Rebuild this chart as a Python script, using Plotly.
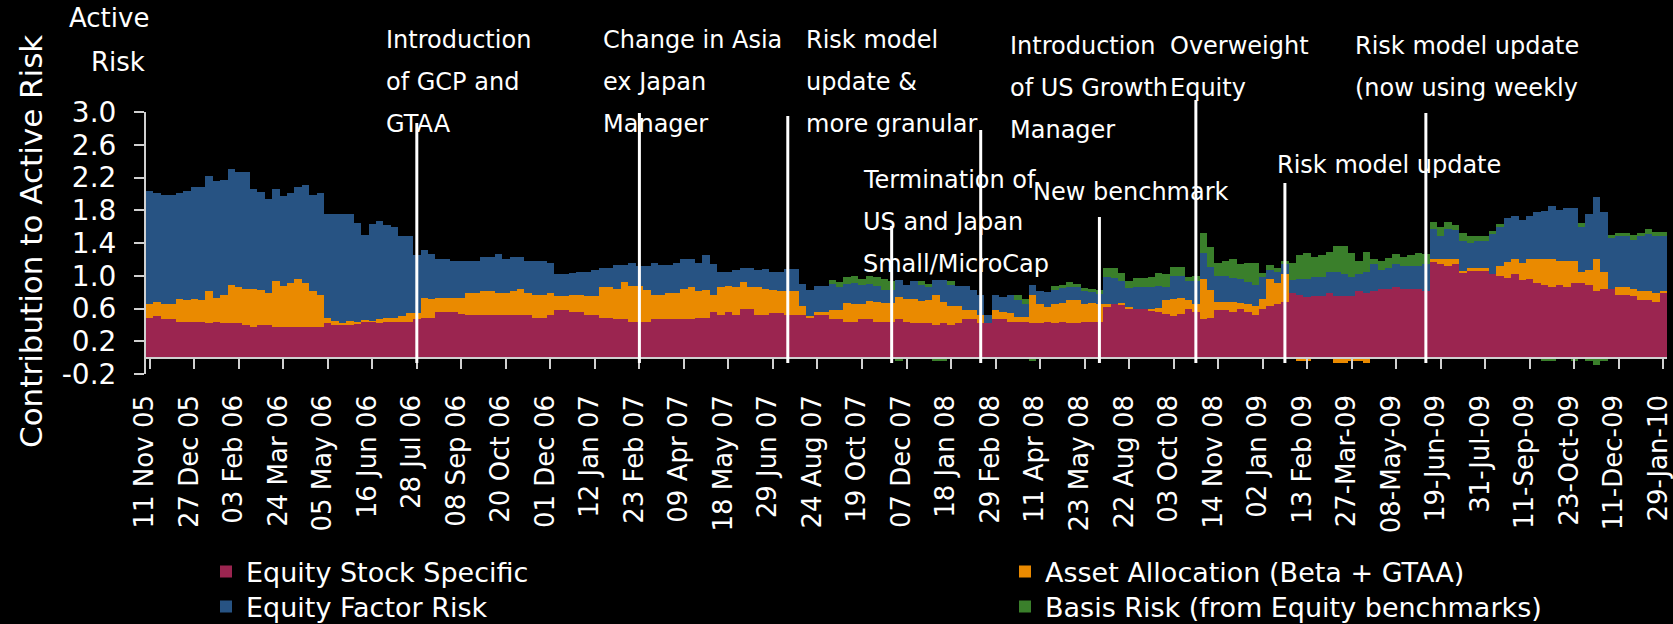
import plotly.graph_objects as go

# ---------------- data ----------------
tick_labels = ["11 Nov 05", "27 Dec 05", "03 Feb 06", "24 Mar 06", "05 May 06", "16 Jun 06",
               "28 Jul 06", "08 Sep 06", "20 Oct 06", "01 Dec 06", "12 Jan 07", "23 Feb 07",
               "09 Apr 07", "18 May 07", "29 Jun 07", "24 Aug 07", "19 Oct 07", "07 Dec 07",
               "18 Jan 08", "29 Feb 08", "11 Apr 08", "23 May 08", "22 Aug 08", "03 Oct 08",
               "14 Nov 08", "02 Jan 09", "13 Feb 09", "27-Mar-09", "08-May-09", "19-Jun-09",
               "31-Jul-09", "11-Sep-09", "23-Oct-09", "11-Dec-09", "29-Jan-10"]
label_every = 6  # one date label every 6 weekly observations

y_tickvals = [-0.2, 0.2, 0.6, 1.0, 1.4, 1.8, 2.2, 2.6, 3.0]
y_ticktext = ["-0.2", "0.2", "0.6", "1.0", "1.4", "1.8", "2.2", "2.6", "3.0"]

stock_specific = [
    0.49, 0.51, 0.47, 0.47, 0.44, 0.44, 0.44, 0.44, 0.42, 0.44,
    0.42, 0.42, 0.42, 0.40, 0.37, 0.40, 0.40, 0.37, 0.37, 0.37,
    0.37, 0.37, 0.37, 0.37, 0.42, 0.40, 0.40, 0.40, 0.42, 0.44,
    0.44, 0.42, 0.44, 0.44, 0.44, 0.44, 0.47, 0.49, 0.49, 0.56,
    0.56, 0.56, 0.53, 0.52, 0.52, 0.52, 0.52, 0.52, 0.52, 0.52,
    0.52, 0.52, 0.49, 0.49, 0.52, 0.58, 0.58, 0.56, 0.56, 0.52,
    0.52, 0.49, 0.49, 0.47, 0.47, 0.44, 0.44, 0.44, 0.47, 0.47,
    0.47, 0.47, 0.47, 0.47, 0.49, 0.49, 0.56, 0.52, 0.56, 0.52,
    0.60, 0.60, 0.52, 0.52, 0.54, 0.54, 0.52, 0.52, 0.52, 0.49,
    0.52, 0.52, 0.47, 0.47, 0.44, 0.44, 0.47, 0.47, 0.44, 0.44,
    0.44, 0.47, 0.44, 0.42, 0.42, 0.42, 0.40, 0.42, 0.40, 0.42,
    0.47, 0.47, 0.42, 0.42, 0.47, 0.47, 0.44, 0.44, 0.44, 0.42,
    0.42, 0.44, 0.42, 0.44, 0.42, 0.42, 0.44, 0.44, 0.44, 0.63,
    0.65, 0.65, 0.60, 0.60, 0.60, 0.58, 0.56, 0.53, 0.51, 0.53,
    0.60, 0.56, 0.47, 0.49, 0.58, 0.58, 0.56, 0.60, 0.56, 0.52,
    0.60, 0.63, 0.65, 0.68, 0.79, 0.76, 0.74, 0.75, 0.75, 0.79,
    0.75, 0.75, 0.75, 0.81, 0.79, 0.81, 0.84, 0.84, 0.86, 0.84,
    0.84, 0.84, 0.81, 1.17, 1.14, 1.12, 1.14, 1.04, 1.07, 1.07,
    1.07, 1.02, 1.00, 0.97, 1.02, 0.95, 0.96, 0.91, 0.89, 0.86,
    0.89, 0.86, 0.91, 0.91, 0.89, 0.81, 0.84, 0.84, 0.76, 0.76,
    0.75, 0.70, 0.70, 0.68, 0.79]

asset_allocation = [
    0.16, 0.17, 0.18, 0.18, 0.27, 0.26, 0.28, 0.26, 0.39, 0.29,
    0.34, 0.47, 0.44, 0.44, 0.47, 0.42, 0.39, 0.56, 0.51, 0.54,
    0.59, 0.54, 0.44, 0.39, 0.06, 0.05, 0.02, 0.05, 0.02, 0.02,
    0.01, 0.05, 0.05, 0.05, 0.07, 0.10, 0.07, 0.24, 0.23, 0.17,
    0.17, 0.17, 0.20, 0.27, 0.27, 0.29, 0.29, 0.27, 0.27, 0.29,
    0.32, 0.27, 0.27, 0.27, 0.27, 0.17, 0.17, 0.20, 0.20, 0.23,
    0.23, 0.37, 0.37, 0.37, 0.45, 0.44, 0.44, 0.39, 0.29, 0.29,
    0.32, 0.32, 0.37, 0.39, 0.32, 0.34, 0.21, 0.34, 0.31, 0.34,
    0.32, 0.26, 0.34, 0.32, 0.29, 0.27, 0.29, 0.29, 0.11, 0.02,
    0.04, 0.04, 0.11, 0.11, 0.23, 0.21, 0.18, 0.22, 0.24, 0.23,
    0.23, 0.27, 0.27, 0.29, 0.27, 0.28, 0.37, 0.26, 0.23, 0.21,
    0.11, 0.11, 0.10, 0.00, 0.11, 0.09, 0.11, 0.06, 0.06, 0.34,
    0.23, 0.18, 0.23, 0.23, 0.28, 0.28, 0.21, 0.23, 0.21, 0.02,
    0.00, 0.02, 0.02, 0.00, 0.00, 0.02, 0.05, 0.17, 0.20, 0.20,
    0.10, 0.10, 0.49, 0.34, 0.10, 0.10, 0.12, 0.07, 0.10, 0.11,
    0.12, 0.33, 0.26, 0.34, 0.00, -0.04, -0.04, -0.02, -0.02, -0.02,
    -0.06, -0.06, -0.04, -0.04, -0.06, 0.00, -0.02, -0.02, -0.02, -0.02,
    -0.02, -0.02, 0.00, 0.04, 0.06, 0.09, 0.06, 0.02, 0.02, 0.02,
    0.02, 0.00, 0.12, 0.20, 0.18, 0.20, 0.24, 0.29, 0.32, 0.34,
    0.29, 0.32, 0.27, 0.13, 0.18, 0.39, 0.21, -0.02, 0.10, 0.10,
    0.09, 0.11, 0.11, 0.11, 0.02]

factor_risk = [
    1.38, 1.33, 1.34, 1.34, 1.30, 1.33, 1.36, 1.38, 1.41, 1.43,
    1.41, 1.41, 1.41, 1.43, 1.22, 1.20, 1.15, 1.13, 1.10, 1.10,
    1.13, 1.20, 1.18, 1.25, 1.27, 1.31, 1.33, 1.31, 1.20, 1.04,
    1.18, 1.20, 1.13, 1.10, 0.97, 0.94, 0.71, 0.58, 0.55, 0.48,
    0.48, 0.45, 0.45, 0.39, 0.39, 0.42, 0.42, 0.48, 0.42, 0.42,
    0.39, 0.39, 0.42, 0.42, 0.37, 0.27, 0.27, 0.27, 0.29, 0.29,
    0.32, 0.24, 0.24, 0.29, 0.21, 0.27, 0.24, 0.29, 0.39, 0.37,
    0.34, 0.37, 0.37, 0.34, 0.34, 0.42, 0.37, 0.18, 0.18, 0.21,
    0.18, 0.24, 0.21, 0.24, 0.21, 0.24, 0.27, 0.27, 0.27, 0.32,
    0.32, 0.32, 0.32, 0.28, 0.23, 0.26, 0.24, 0.21, 0.20, 0.16,
    0.16, 0.21, 0.18, 0.23, 0.20, 0.16, 0.18, 0.27, 0.26, 0.24,
    0.29, 0.24, 0.24, 0.10, 0.18, 0.18, 0.21, 0.20, 0.15, 0.13,
    0.16, 0.18, 0.18, 0.18, 0.16, 0.16, 0.16, 0.13, 0.13, 0.34,
    0.32, 0.26, 0.23, 0.26, 0.26, 0.26, 0.26, 0.16, 0.29, 0.27,
    0.23, 0.28, 0.32, 0.28, 0.32, 0.32, 0.29, 0.29, 0.26, 0.26,
    0.27, 0.11, 0.13, 0.12, 0.16, 0.20, 0.22, 0.24, 0.24, 0.26,
    0.29, 0.27, 0.24, 0.21, 0.26, 0.33, 0.23, 0.26, 0.28, 0.28,
    0.28, 0.28, 0.33, 0.36, 0.28, 0.36, 0.36, 0.37, 0.31, 0.34,
    0.34, 0.49, 0.47, 0.53, 0.53, 0.53, 0.53, 0.58, 0.58, 0.65,
    0.62, 0.65, 0.65, 0.56, 0.69, 0.76, 0.73, 0.62, 0.62, 0.62,
    0.60, 0.67, 0.70, 0.70, 0.67]

basis_risk = [
    0, 0, 0, 0, 0, 0, 0, 0, 0, 0,
    0, 0, 0, 0, 0, 0, 0, 0, 0, 0,
    0, 0, 0, 0, 0, 0, 0, 0, 0, 0,
    0, 0, 0, 0, 0, 0, 0, 0, 0, 0,
    0, 0, 0, 0, 0, 0, 0, 0, 0, 0,
    0, 0, 0, 0, 0, 0, 0, 0, 0, 0,
    0, 0, 0, 0, 0, 0, 0, 0, 0, 0,
    0, 0, 0, 0, 0, 0, 0, 0, 0, 0,
    0, 0, 0, 0, 0, 0, 0, 0, 0, 0,
    0, 0, 0.05, 0.06, 0.09, 0.09, 0.07, 0.10, 0.11, 0.13,
    0.10, -0.04, 0, -0.02, 0.04, 0.04, -0.04, -0.04, 0.04, 0,
    0, -0.02, 0, 0, -0.02, 0, -0.02, 0.06, 0.06, -0.04,
    0, 0, 0.04, 0.04, 0.06, 0.04, 0.04, 0.04, 0.04, 0.11,
    0.13, 0.10, 0.09, 0.11, 0.11, 0.13, 0.16, 0.16, 0.11, 0.11,
    0.06, 0.06, 0.24, 0.24, 0.16, 0.18, 0.23, 0.18, 0.24, 0.27,
    0.04, 0.06, 0.06, 0.04, 0.21, 0.29, 0.32, 0.24, 0.26, 0.24,
    0.32, 0.34, 0.29, 0.16, 0.24, 0.06, 0.11, 0.12, 0.13, 0.11,
    0.13, 0.16, 0.13, 0.09, 0.11, 0.09, 0.06, 0.09, 0.09, 0.06,
    0.06, 0.04, 0.04, 0, 0, 0, 0, -0.02, -0.04, -0.04,
    -0.02, -0.02, -0.04, 0.04, -0.04, -0.09, -0.04, 0.04, 0.04, 0.04,
    0.06, 0.04, 0.06, 0.04, 0.06]

# events: observation index where each change happened, and its label lines
event_index = [36, 66, 86, 100, 112, 128, 141, 153, 172]
event_labels = [
    ["Introduction", "of GCP and", "GTAA"],
    ["Change in Asia", "ex Japan", "Manager"],
    ["Risk model", "update &", "more granular"],
    ["Termination of", "US and Japan", "Small/MicroCap"],
    ["Introduction", "of US Growth", "Manager"],
    ["New benchmark"],
    ["Overweight", "Equity"],
    ["Risk model update"],
    ["Risk model update", "(now using weekly"],
]

n = len(stock_specific)
assert n == len(asset_allocation) == len(factor_risk) == len(basis_risk)
x = list(range(n))

# ---------------- style / layout ----------------
W, H = 1673, 624
L, R, T, B = 146, 6, 112, 250
PW, PH = W - L - R, H - T - B
FONT = "DejaVu Sans"


def px_x(p):  # pixel -> paper x
    return (p - L) / PW


def px_y(p):  # pixel -> paper y
    return (H - B - p) / PH


# label styling per event: top of line, left of text, y of first text row
line_top = [123, 113, 116, 226, 130, 217, 100, 183, 113]
text_left = [384, 601, 804, 861, 1008, 1031, 1168, 1275, 1353]
text_top = [40, 40, 40, 180, 46, 192, 46, 165, 46]
row_gap = 42
line_bottom = 363

colors = {"ss": "#9B2550", "aa": "#EA8A00", "fr": "#275383", "br": "#3A7F2B"}

fig = go.Figure()
fig.add_trace(go.Bar(x=x, y=stock_specific, name="Equity Stock Specific", legend="legend",
                     marker=dict(color=colors["ss"], line=dict(width=0))))
fig.add_trace(go.Bar(x=x, y=asset_allocation, name="Asset Allocation (Beta + GTAA)", legend="legend2",
                     marker=dict(color=colors["aa"], line=dict(width=0))))
fig.add_trace(go.Bar(x=x, y=factor_risk, name="Equity Factor Risk", legend="legend3",
                     marker=dict(color=colors["fr"], line=dict(width=0))))
fig.add_trace(go.Bar(x=x, y=basis_risk, name="Basis Risk (from Equity benchmarks)", legend="legend4",
                     marker=dict(color=colors["br"], line=dict(width=0))))

shapes = []
annotations = []
for i, xi in enumerate(event_index):
    shapes.append(dict(type="line", xref="x", yref="paper", x0=xi, x1=xi,
                       y0=px_y(line_bottom), y1=px_y(line_top[i]),
                       line=dict(color="white", width=3)))
    for j, txt in enumerate(event_labels[i]):
        annotations.append(dict(text=txt, xref="paper", yref="paper",
                                x=px_x(text_left[i]), y=px_y(text_top[i] + j * row_gap),
                                xanchor="left", yanchor="middle", showarrow=False,
                                font=dict(family=FONT, size=24, color="white")))

annotations.append(dict(text="Active", xref="paper", yref="paper", x=px_x(109), y=px_y(18),
                        xanchor="center", yanchor="middle", showarrow=False,
                        font=dict(family=FONT, size=26, color="white")))
annotations.append(dict(text="Risk", xref="paper", yref="paper", x=px_x(118), y=px_y(62),
                        xanchor="center", yanchor="middle", showarrow=False,
                        font=dict(family=FONT, size=26, color="white")))
annotations.append(dict(text="Contribution to Active Risk", xref="paper", yref="paper",
                        x=px_x(31), y=px_y(242), textangle=-90,
                        xanchor="center", yanchor="middle", showarrow=False,
                        font=dict(family=FONT, size=31, color="white")))

tickvals = [k * label_every for k in range(len(tick_labels))]
ymin, ymax = -0.2, 3.0


def legend_at(px_left, px_center_y):
    return dict(orientation="v", xref="container", yref="container",
                x=px_left / W, y=1 - px_center_y / H, xanchor="left", yanchor="middle",
                font=dict(family=FONT, size=27, color="white"),
                bgcolor="rgba(0,0,0,0)", borderwidth=0)


fig.update_layout(
    width=W, height=H,
    margin=dict(l=L, r=R, t=T, b=B, autoexpand=False),
    paper_bgcolor="black", plot_bgcolor="black",
    barmode="relative", bargap=0,
    font=dict(family=FONT, color="white"),
    shapes=shapes, annotations=annotations,
    showlegend=True,
    legend=legend_at(206, 572),
    legend2=legend_at(1005, 572),
    legend3=legend_at(206, 607),
    legend4=legend_at(1005, 607),
    xaxis=dict(range=[-0.5, n - 0.5], tickmode="array", tickvals=tickvals, ticktext=tick_labels,
               tickangle=-90, tickfont=dict(family=FONT, size=26, color="white"),
               anchor="free", position=(0 - ymin) / (ymax - ymin),
               showline=True, linecolor="#d0d0d0", linewidth=2,
               ticks="outside", ticklen=10, tickwidth=2, tickcolor="#d0d0d0",
               ticklabelstandoff=16, ticklabelshift=-5, ticklabeloverflow="allow",
               automargin=False, showgrid=False, zeroline=False),
    yaxis=dict(range=[ymin, ymax], tickmode="array", tickvals=y_tickvals, ticktext=y_ticktext,
               tickfont=dict(family=FONT, size=28, color="white"),
               showline=True, linecolor="#d0d0d0", linewidth=2,
               ticks="outside", ticklen=10, tickwidth=2, tickcolor="#d0d0d0",
               ticklabelstandoff=12, automargin=False, showgrid=False, zeroline=False),
)

fig.write_html("out.html", config={"displayModeBar": False},
               post_script="document.body.style.margin='0';document.body.style.overflow='hidden';")
